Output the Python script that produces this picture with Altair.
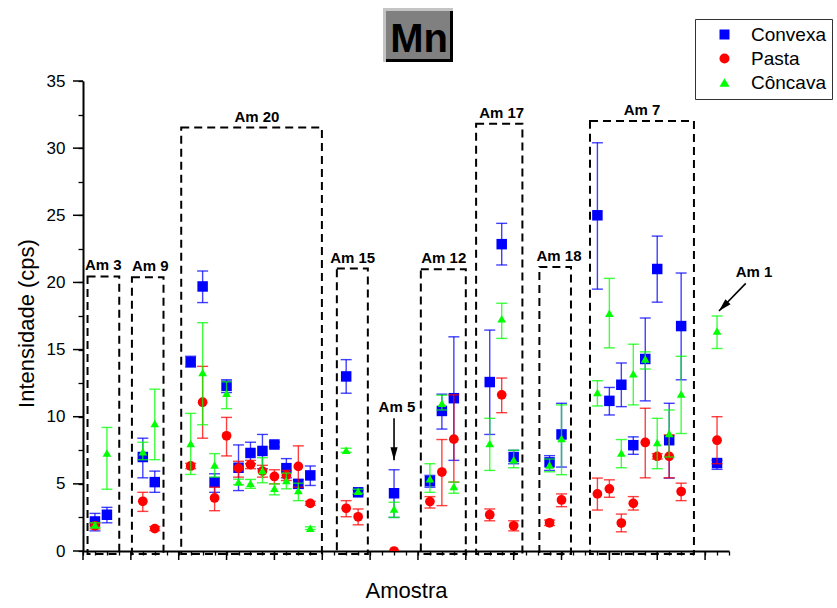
import altair as alt
import pandas as pd

# ---------------- data ----------------
positions = [1, 2, 5, 6, 9, 10, 11, 12, 13, 14, 15, 16, 17, 18, 19, 22, 23, 26,
             29, 30, 31, 34, 35, 36, 39, 40, 43, 44, 45, 46, 47, 48, 49, 50, 53]

convexa = [2.2, 2.7, 7.0, 5.13, 14.08, 19.7, 5.13, 12.3, 6.2, 7.3, 7.45, 7.93, 6.17, 5.0, 5.63,
           13.0, 4.37, 4.3, 5.2, 10.43, 11.38, 12.58, 22.85, 7.0, 6.6, 8.68,
           25.0, 11.18, 12.38, 7.88, 14.3, 21.0, 8.25, 16.75, 6.55]
convexa_lo = [1.5, 2.1, 5.45, 4.37, 13.7, 18.5, 4.37, 11.8, 4.5, 6.5, 6.13, 7.75, 5.45, 4.67, 4.88,
              11.75, 4.2, 2.5, 4.75, 9.08, 6.75, 8.68, 21.3, 6.5, 6.0, 6.25,
              19.5, 10.13, 10.75, 7.2, 11.18, 18.53, 5.43, 12.75, 6.08]
convexa_hi = [2.8, 3.25, 8.4, 5.95, 14.5, 20.85, 5.75, 12.75, 7.9, 8.1, 8.68, 8.1, 6.88, 5.3, 6.33,
              14.25, 4.55, 6.05, 5.63, 11.68, 15.95, 16.45, 24.4, 7.5, 7.1, 11.0,
              30.4, 12.18, 14.0, 8.5, 17.35, 23.45, 11.0, 20.7, 6.75]

pasta = [1.88, None, 3.7, 1.67, 6.33, 11.08, 3.95, 8.58, 6.17, 6.43, 5.95, 5.55, 5.63, 6.3, 3.55,
         3.18, 2.55, 0.0, 3.68, 5.88, 8.33, 2.7, 11.63, 1.88, 2.1, 3.8,
         4.25, 4.63, 2.08, 3.55, 8.08, 7.05, 7.05, 4.43, 8.25]
pasta_lo = [1.65, None, 2.95, 1.52, 6.13, 8.4, 3.0, 7.08, 5.5, 6.13, 5.5, 5.0, 5.25, 4.75, 3.4,
            2.55, 1.95, None, 3.2, 3.38, 5.13, 2.25, 10.3, 1.5, 1.9, 3.3,
            3.05, 4.0, 1.43, 3.05, 5.45, 6.85, 5.45, 3.75, 6.5]
pasta_hi = [2.1, None, 4.37, 1.82, 6.53, 13.75, 4.75, 9.95, 6.68, 6.75, 6.38, 6.05, 6.0, 7.83, 3.7,
            3.75, 3.13, None, 4.05, 8.3, 11.63, 3.13, 12.88, 2.25, 2.3, 4.25,
            5.43, 5.3, 2.75, 4.05, 10.63, 7.25, 8.65, 5.05, 10.0]

concava = [1.93, 7.3, 7.4, 9.5, 8.0, 13.3, 6.4, 11.75, 5.13, 5.05, 6.0, 4.67, 5.25, 4.5, 1.7,
           7.5, 4.45, 3.13, 5.38, 11.0, 4.8, 8.0, 17.3, 6.8, 6.4, 8.38,
           11.8, 17.7, 7.3, 13.2, 14.3, 8.08, 8.75, 11.7, 16.38]
concava_lo = [1.75, 4.6, 6.8, 6.8, 5.7, 9.4, 5.5, 10.6, 4.95, 4.67, 5.08, 4.18, 4.63, 3.75, 1.6,
              7.35, 4.3, 2.5, 4.37, 10.5, 4.3, 6.0, 15.83, 6.2, 5.9, 5.68,
              10.8, 15.13, 6.2, 10.88, 13.55, 6.13, 7.0, 8.75, 15.08]
concava_hi = [2.1, 9.2, 8.1, 12.05, 10.25, 17.0, 7.25, 12.6, 5.35, 5.33, 6.95, 5.0, 5.8, 5.05, 1.8,
              7.65, 4.6, 3.63, 6.5, 11.6, 5.13, 9.88, 18.45, 7.5, 6.85, 10.88,
              12.68, 20.3, 8.3, 15.4, 14.83, 9.88, 10.5, 14.5, 17.5]

series_names = ["Convexa", "Pasta", "Côncava"]
series_colors = ["#0000ff", "#ff0000", "#00ff00"]
series_shapes = ["square", "circle", "triangle-up"]

box_names = ["Am 3", "Am 9", "Am 20", "Am 15", "Am 12", "Am 17", "Am 18", "Am 7"]
box_left = [0.38, 4.09, 8.21, 21.22, 28.24, 32.86, 38.15, 42.38]
box_right = [3.03, 6.73, 19.97, 23.81, 32.0, 36.73, 40.79, 51.07]
box_top = [20.45, 20.38, 31.53, 21.03, 20.98, 31.82, 21.15, 32.02]
box_bottom = [-0.22] * 8
box_label_x = [1.70, 5.62, 14.54, 22.54, 30.16, 35.0, 39.79, 46.73]

arrow_names = ["Am 5", "Am 1"]
arrow_label_x = [26.24, 56.1]
arrow_label_y = [10.35, 20.4]
arrow_x0 = [26.0, 55.4]
arrow_y0 = [9.88, 19.93]
arrow_x1 = [26.0, 53.16]
arrow_y1 = [6.75, 17.87]
arrow_angle = [0, 44]

x_minor_ticks = list(range(0, 55))
x_major_ticks = list(range(0, 53, 4))
y_minor_ticks = [i * 2.5 for i in range(15)]
y_major_ticks = list(range(0, 36, 5))

# ---------------- scales / axes ----------------
FONT = "Liberation Sans"
xs = alt.Scale(domain=[0, 54], nice=False, zero=False)
ys = alt.Scale(domain=[0, 35], nice=False, zero=False)
xaxis = alt.Axis(values=x_minor_ticks, labels=False, tickSize=4, tickWidth=1.3,
                 tickColor="black", domainColor="black", domainWidth=2, grid=False,
                 title="Amostra", titleFont=FONT, titleFontSize=22, titleFontWeight="normal",
                 titleColor="black", titlePadding=25)
yaxis = alt.Axis(values=y_minor_ticks, format="d", tickSize=5, tickWidth=1.3,
                 tickColor="black", domainColor="black", domainWidth=2, grid=False,
                 labelExpr="datum.value % 5 == 0 ? datum.label : ''", labelOverlap=False,
                 labelFont=FONT, labelFontSize=17, labelColor="black", labelPadding=13,
                 title="Intensidade (cps)", titleFont=FONT, titleFontSize=22,
                 titleFontWeight="normal", titleColor="black", titlePadding=8, titleY=242)


def xq(f):
    return alt.X(f, type="quantitative", scale=xs, axis=xaxis)


def yq(f):
    return alt.Y(f, type="quantitative", scale=ys, axis=yaxis)


# ---------------- tables ----------------
def series_df(name, vals, los, his):
    rows = []
    for p, v, lo, hi in zip(positions, vals, los, his):
        if v is None:
            continue
        rows.append({"x": p, "v": v, "lo": lo, "hi": hi, "series": name})
    return pd.DataFrame(rows)


dfs = [series_df("Convexa", convexa, convexa_lo, convexa_hi),
       series_df("Pasta", pasta, pasta_lo, pasta_hi),
       series_df("Côncava", concava, concava_lo, concava_hi)]

boxes = pd.DataFrame({"name": box_names, "l": box_left, "r": box_right,
                      "top": box_top, "bot": box_bottom, "lx": box_label_x})
arrows = pd.DataFrame({"name": arrow_names, "lx": arrow_label_x, "ly": arrow_label_y,
                       "x0": arrow_x0, "y0": arrow_y0, "x1": arrow_x1, "y1": arrow_y1,
                       "ang": arrow_angle})
one = pd.DataFrame({"a": [0]})

layers = []

# dashed boxes
layers.append(alt.Chart(boxes).mark_rect(fillOpacity=0, stroke="black", strokeWidth=2,
                                         strokeDash=[8, 5]).encode(
    x=xq("l"), x2="r", y=yq("bot"), y2="top"))

# error bars and points per series
size_map = {"Convexa": 110, "Pasta": 95, "Côncava": 75}
for df, name, col in zip(dfs, series_names, series_colors):
    eb = df.dropna(subset=["lo", "hi"])
    base = alt.Chart(eb)
    layers.append(base.mark_rule(color=col, strokeWidth=1.4, opacity=0.75).encode(
        x=xq("x"), y=yq("lo"), y2="hi"))
    layers.append(base.mark_rule(color=col, strokeWidth=1.4, opacity=0.75,
                                 xOffset=-5.5, x2Offset=5.5).encode(
        x=xq("x"), x2="x", y=yq("hi")))
    layers.append(base.mark_rule(color=col, strokeWidth=1.4, opacity=0.75,
                                 xOffset=-5.5, x2Offset=5.5).encode(
        x=xq("x"), x2="x", y=yq("lo")))
    layers.append(alt.Chart(df).mark_point(filled=True, opacity=1, size=size_map[name],
                                           clip=True).encode(
        x=xq("x"), y=yq("v"),
        color=alt.Color("series:N", scale=alt.Scale(domain=series_names, range=series_colors),
                        legend=alt.Legend(title=None)),
        shape=alt.Shape("series:N", scale=alt.Scale(domain=series_names, range=series_shapes),
                        legend=alt.Legend(title=None))))

# box labels
layers.append(alt.Chart(boxes).mark_text(font=FONT, fontWeight="bold", fontSize=15,
                                         baseline="alphabetic", align="center", dy=-6,
                                         color="black").encode(
    x=xq("lx"), y=yq("top"), text="name:N"))

# arrows
layers.append(alt.Chart(arrows).mark_rule(color="black", strokeWidth=1.6).encode(
    x=xq("x0"), x2="x1", y=yq("y0"), y2="y1"))
layers.append(alt.Chart(arrows).mark_point(filled=True, color="black", opacity=1, size=169,
                                           shape="M0,0L-0.55,-2L0.55,-2Z").encode(
    x=xq("x1"), y=yq("y1"), angle=alt.Angle("ang:Q", scale=None)))
layers.append(alt.Chart(arrows).mark_text(font=FONT, fontWeight="bold", fontSize=15,
                                          baseline="alphabetic", align="center",
                                          color="black").encode(
    x=xq("lx"), y=yq("ly"), text="name:N"))

# extra major ticks
layers.append(alt.Chart(pd.DataFrame({"t": x_major_ticks})).mark_rule(
    color="black", strokeWidth=1.5).encode(x=xq("t"), y=alt.value(470), y2=alt.value(479)))
layers.append(alt.Chart(pd.DataFrame({"t": y_major_ticks})).mark_rule(
    color="black", strokeWidth=1.5).encode(y=yq("t"), x=alt.value(-10), x2=alt.value(0)))

# "Mn" title badge
layers.append(alt.Chart(one).mark_rect(color="#c4c4c4").encode(
    x=alt.value(300), x2=alt.value(370), y=alt.value(-73), y2=alt.value(-19)))
layers.append(alt.Chart(one).mark_rect(color="#000000").encode(
    x=alt.value(303), x2=alt.value(370), y=alt.value(-70), y2=alt.value(-19)))
layers.append(alt.Chart(one).mark_rect(color="#808080").encode(
    x=alt.value(303), x2=alt.value(367), y=alt.value(-70), y2=alt.value(-22)))
layers.append(alt.Chart(one).mark_text(text="Mn", font=FONT, fontWeight="bold", fontSize=40,
                                       baseline="alphabetic", align="center",
                                       color="black").encode(
    x=alt.value(336), y=alt.value(-29)))

chart = alt.layer(*layers).properties(
    width=646, height=470,
    padding={"left": 83, "top": 81, "right": 108, "bottom": 57},
    autosize=alt.AutoSizeParams(type="none"),
).configure_view(stroke=None).configure_legend(
    orient="none", legendX=612, legendY=-62, strokeColor="#333333", fillColor="white",
    padding=6, rowPadding=4, labelFont=FONT, labelFontSize=19, labelColor="black",
    symbolSize=100, symbolOffset=14, labelOffset=17, symbolStrokeWidth=0,
)

chart.save("out.html", embed_options={"renderer": "svg", "actions": False})
